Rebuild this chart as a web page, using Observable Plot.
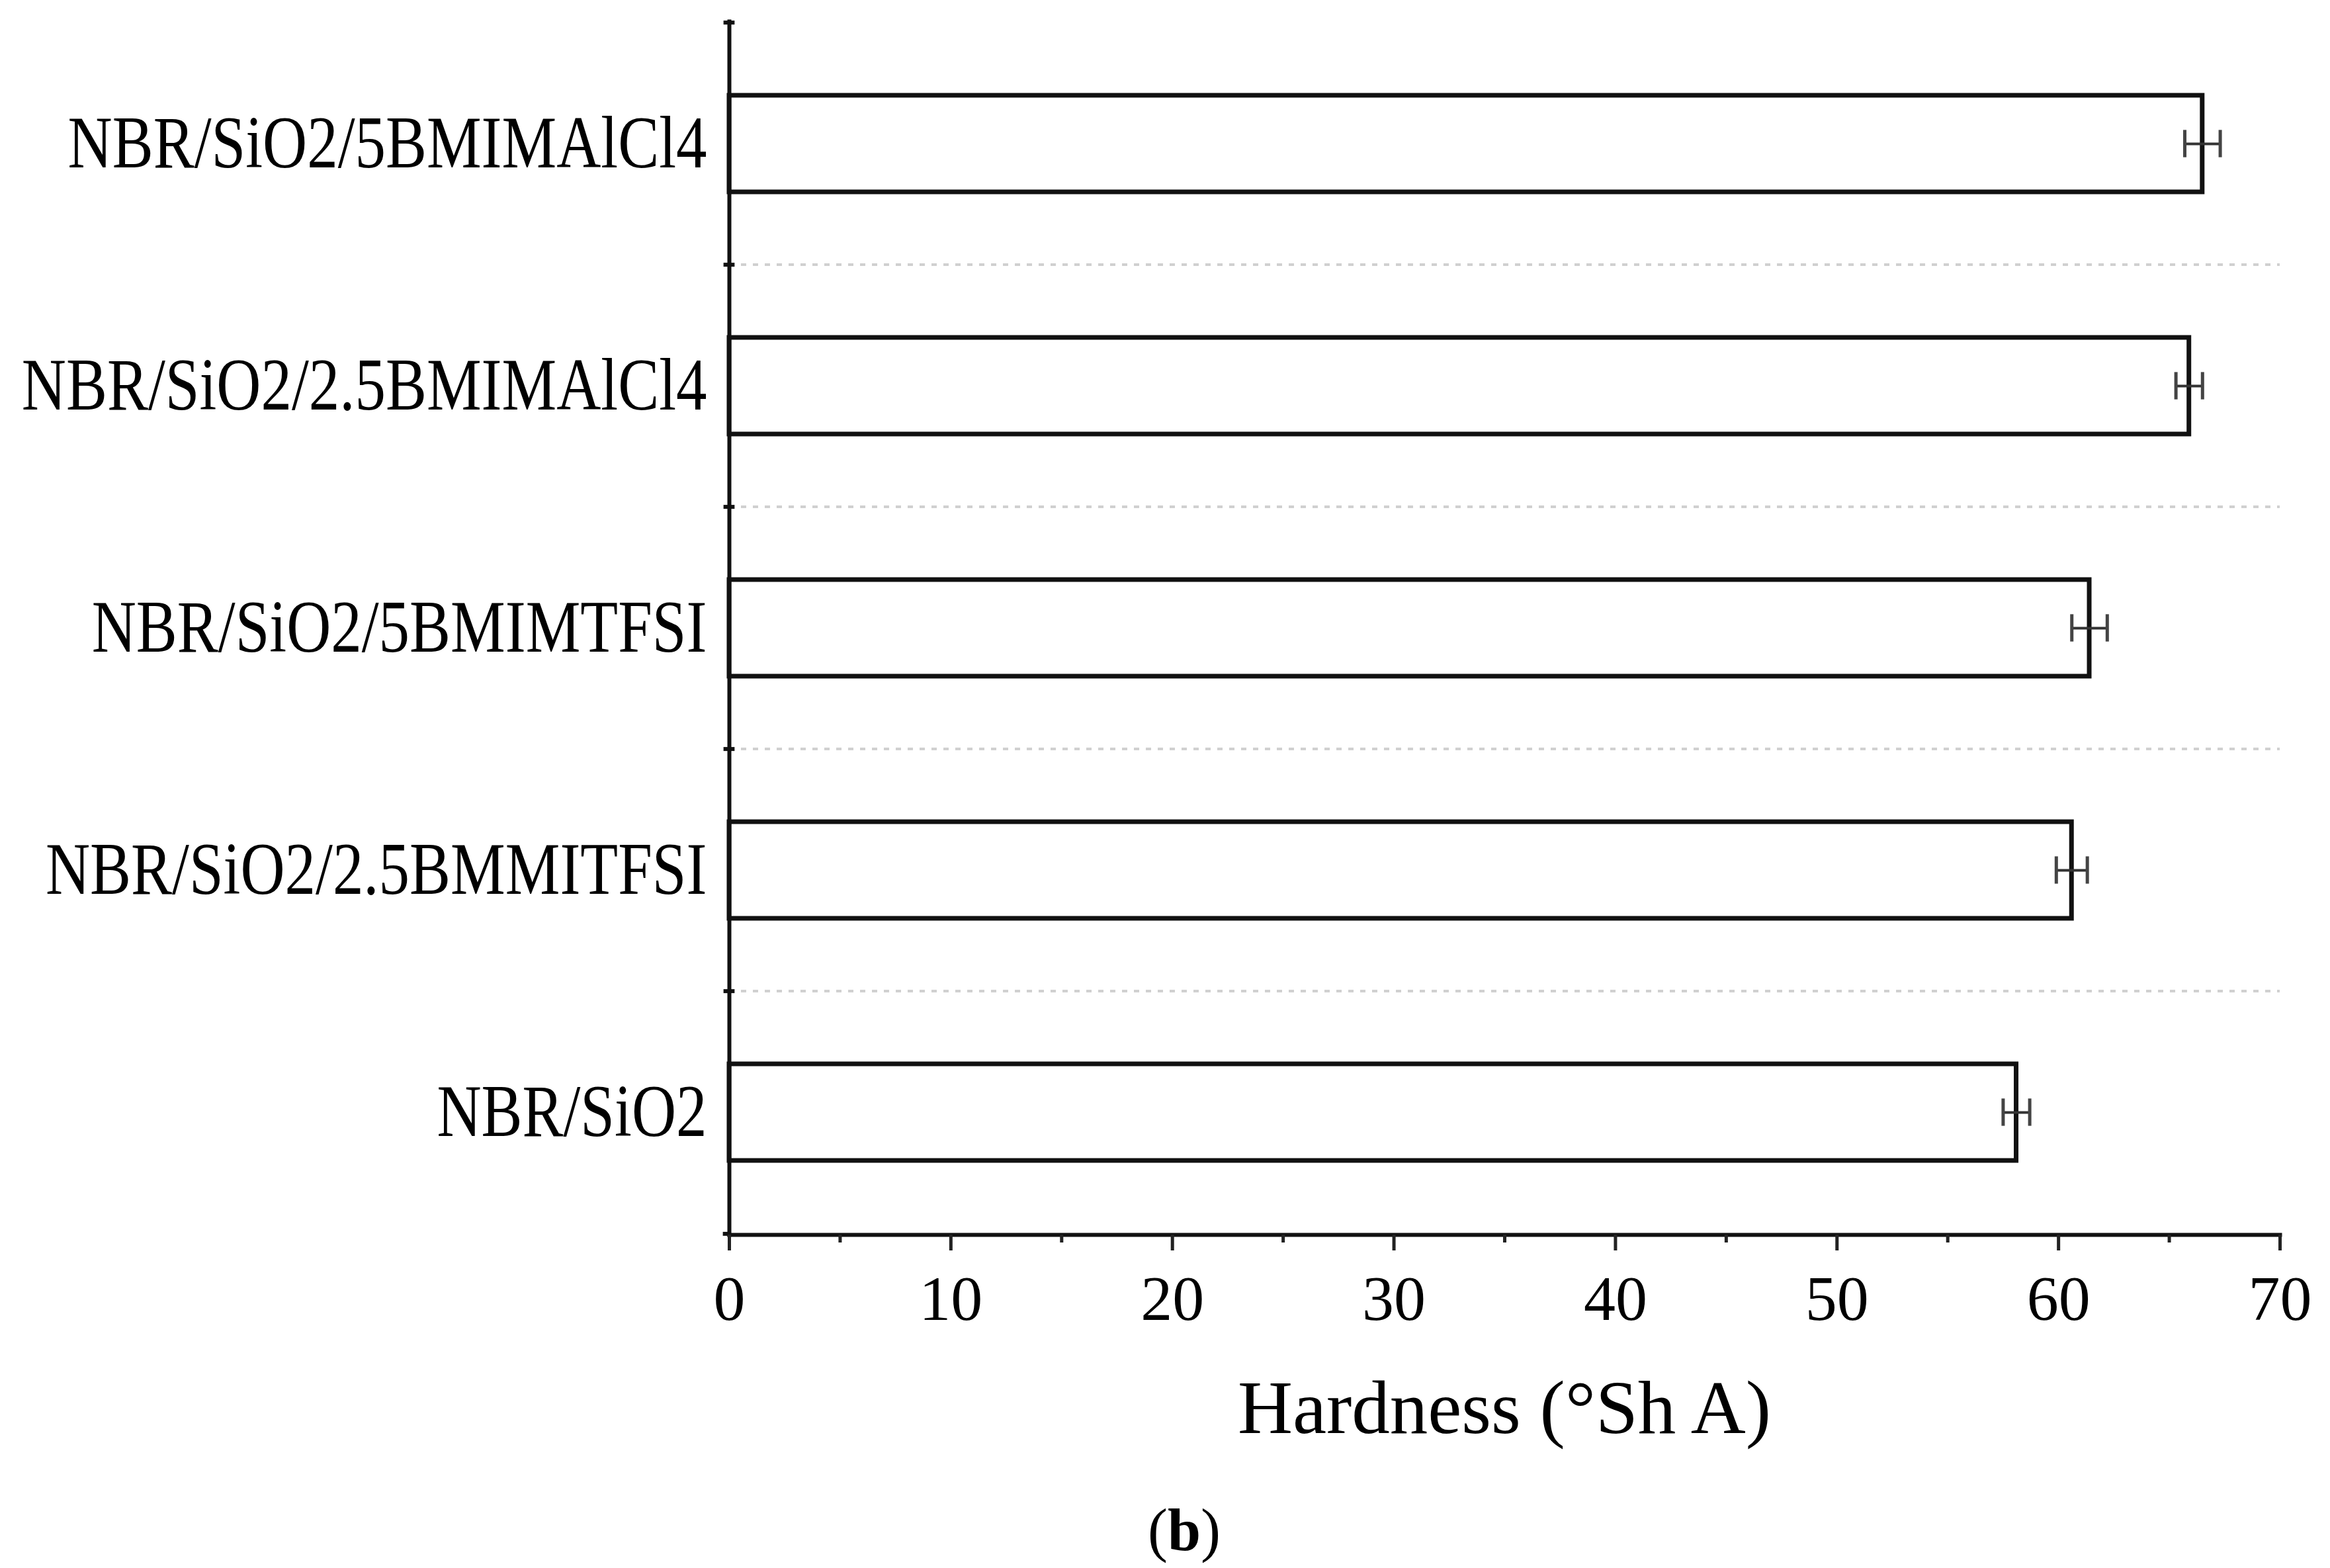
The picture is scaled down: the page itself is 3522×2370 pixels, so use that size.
<!DOCTYPE html>
<html>
<head>
<meta charset="utf-8">
<script src="https://cdn.jsdelivr.net/npm/d3@7"></script>
<script src="https://cdn.jsdelivr.net/npm/@observablehq/plot@0.6"></script>
<style>
  html, body { margin: 0; padding: 0; background: white; }
  #wrap { position: relative; width: 3522px; height: 2370px; background: white; font-family: "Liberation Serif", serif; }
  #chart { position: absolute; left: 0; top: 0; }
  #xtitle { position: absolute; left: 2274px; top: 2128px; transform: translate(-50%, -50%); font-size: 115px; white-space: nowrap; color: black; }
  #caption { position: absolute; left: 1790px; top: 2312px; transform: translate(-50%, -50%); font-size: 90px; white-space: nowrap; color: black; }
</style>
</head>
<body>
<div id="wrap">
  <div id="chart"></div>
  <div id="xtitle">Hardness (°Sh A)</div>
  <div id="caption">(<b>b</b>)</div>
</div>
<script>
const categories = [
  "NBR/SiO2/5BMIMAlCl4",
  "NBR/SiO2/2.5BMIMAlCl4",
  "NBR/SiO2/5BMIMTFSI",
  "NBR/SiO2/2.5BMMITFSI",
  "NBR/SiO2"
];
const hardness = [66.5, 65.9, 61.4, 60.6, 58.1];
const errors = [0.8, 0.6, 0.8, 0.7, 0.6];
const majorTicks = [0, 10, 20, 30, 40, 50, 60, 70];
const minorTicks = [5, 15, 25, 35, 45, 55, 65];

const data = categories.map((c, i) => ({cat: c, v: hardness[i], e: errors[i]}));

const W = 3522, H = 2020, mT = 32, mB = 154, mL = 1102, mR = 76;
const step = (H - mT - mB) / categories.length;
const bandwidth = step * 0.4;
const capInset = (bandwidth - 42) / 2;

const chart = Plot.plot({
  width: W, height: H,
  marginLeft: mL, marginRight: mR, marginTop: mT, marginBottom: mB,
  style: {fontFamily: "Liberation Serif", background: "white", color: "black", overflow: "visible"},
  x: {domain: [0, 70], label: null},
  y: {domain: categories, paddingInner: 0.6, paddingOuter: 0.3, label: null},
  marks: [
    Plot.ruleY(categories.slice(1), {y: d => d, dy: -step / 2, x1: 0, x2: 70, stroke: "#d0d0d0", strokeWidth: 4, strokeDasharray: "8,10"}),
    Plot.barX(data, {y: "cat", x: "v", fill: "white", stroke: "#111", strokeWidth: 7}),
    Plot.ruleY(data, {y: "cat", x1: d => d.v - d.e, x2: d => d.v + d.e, stroke: "#333", strokeWidth: 4}),
    Plot.tickX(data, {y: "cat", x: d => d.v - d.e, insetTop: capInset, insetBottom: capInset, stroke: "#444", strokeWidth: 5}),
    Plot.tickX(data, {y: "cat", x: d => d.v + d.e, insetTop: capInset, insetBottom: capInset, stroke: "#444", strokeWidth: 5}),
    Plot.frame({anchor: "left", stroke: "#111", strokeWidth: 6}),
    Plot.frame({anchor: "bottom", stroke: "#111", strokeWidth: 6}),
    Plot.ruleY(categories, {y: d => d, dy: -step / 2, x1: -0.25, x2: 0.25, stroke: "#111", strokeWidth: 6}),
    Plot.ruleY([categories[categories.length - 1]], {y: d => d, dy: step / 2, x1: -0.28, x2: 0, stroke: "#111", strokeWidth: 6}),
    Plot.axisY({tickSize: 0, tickPadding: 34, fontSize: 112, label: null}),
    Plot.axisX(majorTicks, {tickSize: 24, tickPadding: 36, fontSize: 96, strokeWidth: 5, stroke: "#222", label: null}),
    Plot.axisX(minorTicks, {tickSize: 12, tickFormat: () => "", strokeWidth: 5, stroke: "#222", label: null})
  ]
});
document.getElementById("chart").appendChild(chart);

// condense y labels horizontally (reference font is narrow)
d3.select(chart).selectAll('g[aria-label="y-axis tick label"] text').each(function() {
  const len = this.getComputedTextLength();
  this.setAttribute("textLength", len * 0.83);
  this.setAttribute("lengthAdjust", "spacingAndGlyphs");
});
</script>
</body>
</html>
